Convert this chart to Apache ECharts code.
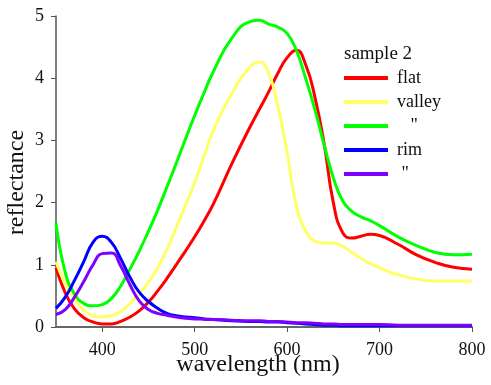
<!DOCTYPE html>
<html>
<head>
<meta charset="utf-8">
<script src="https://cdn.jsdelivr.net/npm/echarts@6/dist/echarts.min.js"></script>
<style>
  html, body { margin: 0; padding: 0; background: #fff; }
  #chart { width: 491px; height: 385px; }
</style>
</head>
<body>
<div id="chart"></div>
<script>
// wavelength samples (nm)
const wavelength = [350, 360, 370, 380, 390, 400, 410, 420, 430, 440, 450, 460, 470, 480, 490, 500,
  510, 520, 540, 560, 570, 580, 590, 600, 610, 620, 630, 640, 650, 660, 670, 680, 690, 700,
  720, 740, 760, 780, 800];

// flat (red)
const flat = [0.95, 0.55, 0.29, 0.15, 0.08, 0.05, 0.05, 0.09, 0.16, 0.26, 0.40, 0.58, 0.78, 1.00, 1.22, 1.45,
  1.70, 1.97, 2.62, 3.22, 3.50, 3.78, 4.08, 4.33, 4.45, 4.22, 3.70, 2.95, 2.00, 1.52, 1.43, 1.46, 1.49, 1.47,
  1.33, 1.16, 1.04, 0.96, 0.93];

// valley (yellow)
const valley = [1.05, 0.70, 0.45, 0.27, 0.18, 0.16, 0.18, 0.25, 0.38, 0.53, 0.72, 0.95, 1.25, 1.60, 1.95, 2.32,
  2.74, 3.15, 3.75, 4.18, 4.26, 4.08, 3.55, 2.80, 1.95, 1.55, 1.38, 1.35, 1.35, 1.30, 1.20, 1.10, 1.02, 0.95,
  0.84, 0.77, 0.74, 0.74, 0.74];

// valley 2 (green)
const valley2 = [1.67, 0.88, 0.53, 0.38, 0.34, 0.36, 0.46, 0.66, 0.93, 1.22, 1.54, 1.88, 2.25, 2.63, 3.02, 3.40,
  3.76, 4.10, 4.64, 4.91, 4.93, 4.87, 4.82, 4.72, 4.45, 4.00, 3.50, 2.93, 2.40, 2.03, 1.86, 1.77, 1.71, 1.63,
  1.45, 1.31, 1.20, 1.16, 1.17];

// rim (blue)
const rim = [0.30, 0.48, 0.75, 1.05, 1.36, 1.46, 1.36, 1.10, 0.80, 0.56, 0.41, 0.30, 0.22, 0.18, 0.16, 0.15,
  0.13, 0.12, 0.10, 0.09, 0.09, 0.08, 0.08, 0.07, 0.06, 0.05, 0.04, 0.03, 0.03, 0.02, 0.02, 0.02, 0.02, 0.02,
  0.02, 0.02, 0.02, 0.02, 0.02];

// rim 2 (purple)
const rim2 = [0.20, 0.28, 0.48, 0.73, 1.00, 1.18, 1.19, 0.98, 0.68, 0.42, 0.28, 0.22, 0.19, 0.16, 0.14, 0.13,
  0.125, 0.12, 0.11, 0.10, 0.10, 0.09, 0.09, 0.08, 0.07, 0.07, 0.06, 0.05, 0.05, 0.04, 0.04, 0.04, 0.04, 0.04,
  0.03, 0.03, 0.03, 0.03, 0.03];

const xTicks = [400, 500, 600, 700, 800];
const seriesNames = ['flat', 'valley', '   "', 'rim', ' "'];
const seriesColors = ['#ff0000', '#ffff66', '#00ff00', '#0000ff', '#7f00ff'];
const seriesData = [flat, valley, valley2, rim, rim2];

const serif = 'Liberation Serif';

function pairs(vals) {
  return wavelength.map((w, i) => [w, vals[i]]);
}

let chart = echarts.init(document.getElementById('chart'));
chart.setOption({
  animation: false,
  backgroundColor: '#fff',
  grid: { left: 56, right: 19, top: 16, bottom: 58, outerBoundsMode: 'none' },
  graphic: [
    {
      type: 'text',
      left: 344,
      top: 45,
      style: { text: 'sample 2', font: '19px "Liberation Serif"', fill: '#111' }
    }
  ],
  legend: {
    orient: 'vertical',
    left: 339,
    top: 63,
    icon: 'rect',
    itemWidth: 44,
    itemHeight: 4,
    itemGap: 4,
    data: seriesNames,
    textStyle: { fontFamily: serif, fontSize: 18, color: '#111', lineHeight: 20, padding: [0, 0, 0, 4] }
  },
  xAxis: {
    type: 'value',
    min: 350,
    max: 800,
    name: 'wavelength (nm)',
    nameLocation: 'middle',
    nameGap: 26,
    nameMoveOverlap: false,
    nameTextStyle: { fontFamily: serif, fontSize: 24, color: '#111', padding: [0, 12, 0, 0] },
    axisLine: { show: true, onZero: false, lineStyle: { color: '#666', width: 2 } },
    axisTick: { show: true, customValues: xTicks, length: 5, lineStyle: { color: '#555' } },
    axisLabel: { customValues: xTicks, fontFamily: serif, fontSize: 18, color: '#111', margin: 14 },
    splitLine: { show: false }
  },
  yAxis: {
    type: 'value',
    min: 0,
    max: 5,
    interval: 1,
    name: 'reflectance',
    nameLocation: 'middle',
    nameGap: 27,
    nameMoveOverlap: false,
    nameTextStyle: { fontFamily: serif, fontSize: 24, color: '#111', padding: [0, 22, 0, 0] },
    axisLine: { show: true, lineStyle: { color: '#555', width: 1.5 } },
    axisTick: { show: true, length: 5, lineStyle: { color: '#555' } },
    axisLabel: { fontFamily: serif, fontSize: 18, color: '#111', margin: 12 },
    splitLine: { show: false }
  },
  series: seriesNames.map((name, i) => ({
    name: name,
    type: 'line',
    data: pairs(seriesData[i]),
    smooth: 0.5,
    showSymbol: false,
    symbol: 'none',
    color: seriesColors[i],
    lineStyle: { color: seriesColors[i], width: 3 }
  }))
});
</script>
</body>
</html>
